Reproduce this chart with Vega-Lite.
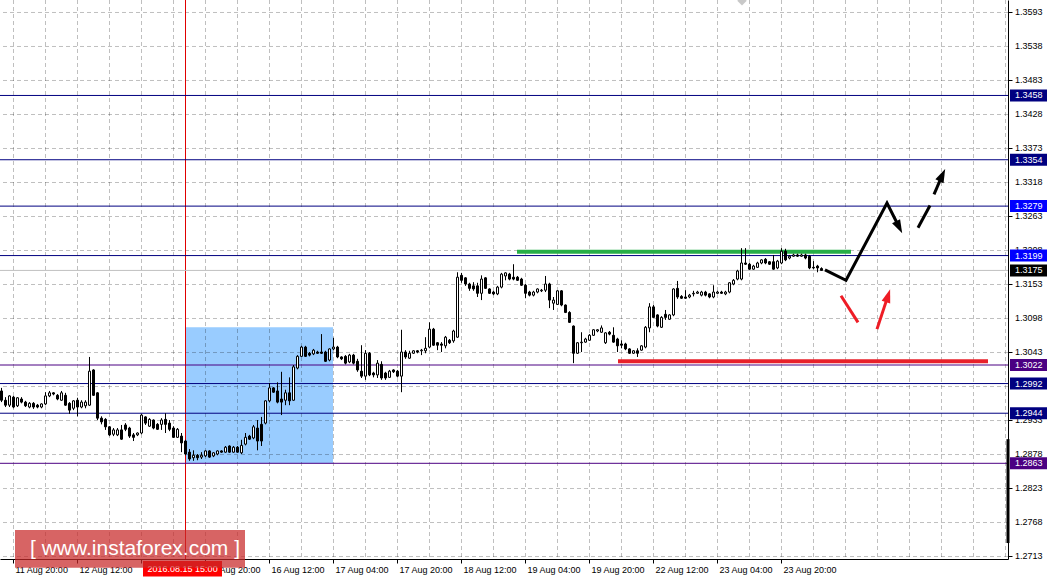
{
"$schema": "https://vega.github.io/schema/vega-lite/v6.json",
"width": 1008, "height": 559,
"autosize": {"type": "none"},
"padding": {"left": 0, "top": 0, "right": 50, "bottom": 21},
"background": "white",
"config": {"view": {"stroke": null}, "font": "Liberation Sans"},
"datasets": {
"zones": [{"t1": 43, "t2": 80, "p1": 1.2863, "p2": 1.3083}],
"ygrid": [{"p":1.2713},{"p":1.2768},{"p":1.2823},{"p":1.2878},{"p":1.2933},{"p":1.2988},{"p":1.3043},{"p":1.3098},{"p":1.3153},{"p":1.3208},{"p":1.3263},{"p":1.3318},{"p":1.3373},{"p":1.3428},{"p":1.3483},{"p":1.3538},{"p":1.3593}],
"xgrid": [{"t":0},{"t":8},{"t":16},{"t":24},{"t":32},{"t":40},{"t":48},{"t":56},{"t":64},{"t":72},{"t":80},{"t":88},{"t":96},{"t":104},{"t":112},{"t":120},{"t":128},{"t":136},{"t":144},{"t":152},{"t":160},{"t":168},{"t":176},{"t":184},{"t":192},{"t":200},{"t":208},{"t":216},{"t":224},{"t":232},{"t":240},{"t":248}],
"levels": [{"p":1.3458,"kind":"level"},{"p":1.3354,"kind":"level"},{"p":1.3279,"kind":"target"},{"p":1.3199,"kind":"target"},{"p":1.3175,"kind":"bid"},{"p":1.3022,"kind":"key"},{"p":1.2992,"kind":"level"},{"p":1.2944,"kind":"level"},{"p":1.2863,"kind":"key"}],
"hlines": [{"name":"resistance","t":126,"p":1.3205},{"name":"resistance","t":209.5,"p":1.3205},{"name":"support","t":151.25,"p":1.3028},{"name":"support","t":243.75,"p":1.3028}],
"paths": [{"seg":"a","t":203,"p":1.3176},{"seg":"a","t":208.25,"p":1.3159},{"seg":"a","t":218.5,"p":1.3284},{"seg":"a","t":221.45,"p":1.3246},{"seg":"b","t":226.25,"p":1.3244},{"seg":"b","t":229.25,"p":1.328},{"seg":"c","t":230.25,"p":1.3298},{"seg":"c","t":232.25,"p":1.3328},{"seg":"r1","t":207,"p":1.3134},{"seg":"r1","t":211.25,"p":1.3091},{"seg":"r2","t":216,"p":1.308},{"seg":"r2","t":218.7,"p":1.3133}],
"heads": [{"head":"h1","t":221.45,"p":1.3246},{"head":"h2","t":232.25,"p":1.3328},{"head":"h3","t":218.7,"p":1.3133}],
"candles": [
{"t":-3,"o":1.2980,"h":1.2985,"l":1.2962,"c":1.2965},
{"t":-2,"o":1.2965,"h":1.2970,"l":1.2954,"c":1.2957},
{"t":-1,"o":1.2957,"h":1.2973,"l":1.2954,"c":1.2972},
{"t":0,"o":1.2970,"h":1.2972,"l":1.2952,"c":1.2954},
{"t":1,"o":1.2956,"h":1.2970,"l":1.2954,"c":1.2969},
{"t":2,"o":1.2967,"h":1.2970,"l":1.2960,"c":1.2962},
{"t":3,"o":1.2962,"h":1.2964,"l":1.2954,"c":1.2956},
{"t":4,"o":1.2954,"h":1.2962,"l":1.2952,"c":1.2960},
{"t":5,"o":1.2960,"h":1.2962,"l":1.2951,"c":1.2954},
{"t":6,"o":1.2957,"h":1.2959,"l":1.2952,"c":1.2954},
{"t":7,"o":1.2954,"h":1.2960,"l":1.2952,"c":1.2959},
{"t":8,"o":1.2959,"h":1.2978,"l":1.2957,"c":1.2972},
{"t":9,"o":1.2972,"h":1.2980,"l":1.2970,"c":1.2977},
{"t":10,"o":1.2977,"h":1.2978,"l":1.2973,"c":1.2975},
{"t":11,"o":1.2973,"h":1.2975,"l":1.2965,"c":1.2967},
{"t":12,"o":1.2965,"h":1.2980,"l":1.2964,"c":1.2977},
{"t":13,"o":1.2973,"h":1.2977,"l":1.2956,"c":1.2957},
{"t":14,"o":1.2960,"h":1.2962,"l":1.2943,"c":1.2949},
{"t":15,"o":1.2952,"h":1.2965,"l":1.2949,"c":1.2964},
{"t":16,"o":1.2965,"h":1.2969,"l":1.2939,"c":1.2954},
{"t":17,"o":1.2954,"h":1.2965,"l":1.2952,"c":1.2962},
{"t":18,"o":1.2956,"h":1.2965,"l":1.2952,"c":1.2962},
{"t":19,"o":1.2957,"h":1.3035,"l":1.2956,"c":1.3012},
{"t":20,"o":1.3014,"h":1.3015,"l":1.2972,"c":1.2973},
{"t":21,"o":1.2977,"h":1.2978,"l":1.2933,"c":1.2936},
{"t":22,"o":1.2936,"h":1.2939,"l":1.2926,"c":1.2930},
{"t":23,"o":1.2934,"h":1.2936,"l":1.2917,"c":1.2922},
{"t":24,"o":1.2922,"h":1.2923,"l":1.2907,"c":1.2909},
{"t":25,"o":1.2910,"h":1.2920,"l":1.2907,"c":1.2917},
{"t":26,"o":1.2909,"h":1.2920,"l":1.2907,"c":1.2917},
{"t":27,"o":1.2917,"h":1.2925,"l":1.2901,"c":1.2902},
{"t":28,"o":1.2925,"h":1.2928,"l":1.2915,"c":1.2918},
{"t":29,"o":1.2920,"h":1.2922,"l":1.2904,"c":1.2907},
{"t":30,"o":1.2909,"h":1.2912,"l":1.2899,"c":1.2905},
{"t":31,"o":1.2909,"h":1.2913,"l":1.2907,"c":1.2912},
{"t":32,"o":1.2912,"h":1.2943,"l":1.2910,"c":1.2941},
{"t":33,"o":1.2938,"h":1.2939,"l":1.2925,"c":1.2928},
{"t":34,"o":1.2923,"h":1.2936,"l":1.2922,"c":1.2934},
{"t":35,"o":1.2933,"h":1.2934,"l":1.2918,"c":1.2920},
{"t":36,"o":1.2926,"h":1.2928,"l":1.2917,"c":1.2918},
{"t":37,"o":1.2926,"h":1.2936,"l":1.2917,"c":1.2933},
{"t":38,"o":1.2934,"h":1.2944,"l":1.2912,"c":1.2926},
{"t":39,"o":1.2928,"h":1.2933,"l":1.2915,"c":1.2918},
{"t":40,"o":1.2920,"h":1.2923,"l":1.2904,"c":1.2905},
{"t":41,"o":1.2905,"h":1.2920,"l":1.2904,"c":1.2918},
{"t":42,"o":1.2907,"h":1.2912,"l":1.2881,"c":1.2896},
{"t":43,"o":1.2899,"h":1.2901,"l":1.2876,"c":1.2878},
{"t":44,"o":1.2881,"h":1.2886,"l":1.2867,"c":1.2870},
{"t":45,"o":1.2872,"h":1.2884,"l":1.2867,"c":1.2876},
{"t":46,"o":1.2876,"h":1.2878,"l":1.2868,"c":1.2872},
{"t":47,"o":1.2873,"h":1.2881,"l":1.2870,"c":1.2876},
{"t":48,"o":1.2875,"h":1.2884,"l":1.2873,"c":1.2883},
{"t":49,"o":1.2883,"h":1.2884,"l":1.2872,"c":1.2873},
{"t":50,"o":1.2875,"h":1.2881,"l":1.2873,"c":1.2880},
{"t":51,"o":1.2878,"h":1.2884,"l":1.2876,"c":1.2883},
{"t":52,"o":1.2883,"h":1.2884,"l":1.2880,"c":1.2881},
{"t":53,"o":1.2881,"h":1.2891,"l":1.2880,"c":1.2889},
{"t":54,"o":1.2891,"h":1.2892,"l":1.2880,"c":1.2881},
{"t":55,"o":1.2881,"h":1.2891,"l":1.2880,"c":1.2889},
{"t":56,"o":1.2889,"h":1.2891,"l":1.2880,"c":1.2881},
{"t":57,"o":1.2880,"h":1.2901,"l":1.2878,"c":1.2892},
{"t":58,"o":1.2894,"h":1.2912,"l":1.2892,"c":1.2905},
{"t":59,"o":1.2907,"h":1.2909,"l":1.2901,"c":1.2902},
{"t":60,"o":1.2904,"h":1.2925,"l":1.2902,"c":1.2922},
{"t":61,"o":1.2920,"h":1.2933,"l":1.2884,"c":1.2899},
{"t":62,"o":1.2926,"h":1.2938,"l":1.2891,"c":1.2899},
{"t":63,"o":1.2928,"h":1.2965,"l":1.2926,"c":1.2964},
{"t":64,"o":1.2964,"h":1.2993,"l":1.2962,"c":1.2985},
{"t":65,"o":1.2985,"h":1.2986,"l":1.2977,"c":1.2978},
{"t":66,"o":1.2980,"h":1.2994,"l":1.2960,"c":1.2962},
{"t":67,"o":1.2967,"h":1.3011,"l":1.2941,"c":1.2962},
{"t":68,"o":1.2965,"h":1.2982,"l":1.2957,"c":1.2977},
{"t":69,"o":1.2977,"h":1.3002,"l":1.2957,"c":1.2964},
{"t":70,"o":1.2965,"h":1.3022,"l":1.2964,"c":1.3019},
{"t":71,"o":1.3017,"h":1.3038,"l":1.3015,"c":1.3036},
{"t":72,"o":1.3036,"h":1.3053,"l":1.3035,"c":1.3051},
{"t":73,"o":1.3051,"h":1.3053,"l":1.3035,"c":1.3036},
{"t":74,"o":1.3041,"h":1.3043,"l":1.3036,"c":1.3038},
{"t":75,"o":1.3040,"h":1.3048,"l":1.3038,"c":1.3046},
{"t":76,"o":1.3043,"h":1.3045,"l":1.3040,"c":1.3041},
{"t":77,"o":1.3043,"h":1.3072,"l":1.3040,"c":1.3041},
{"t":78,"o":1.3043,"h":1.3045,"l":1.3027,"c":1.3028},
{"t":79,"o":1.3030,"h":1.3049,"l":1.3028,"c":1.3048},
{"t":80,"o":1.3048,"h":1.3066,"l":1.3046,"c":1.3051},
{"t":81,"o":1.3051,"h":1.3053,"l":1.3033,"c":1.3035},
{"t":82,"o":1.3035,"h":1.3036,"l":1.3030,"c":1.3032},
{"t":83,"o":1.3036,"h":1.3038,"l":1.3023,"c":1.3025},
{"t":84,"o":1.3027,"h":1.3040,"l":1.3025,"c":1.3038},
{"t":85,"o":1.3038,"h":1.3040,"l":1.3023,"c":1.3025},
{"t":86,"o":1.3028,"h":1.3032,"l":1.3011,"c":1.3014},
{"t":87,"o":1.3012,"h":1.3054,"l":1.3001,"c":1.3004},
{"t":88,"o":1.3004,"h":1.3046,"l":1.2998,"c":1.3041},
{"t":89,"o":1.3041,"h":1.3043,"l":1.3004,"c":1.3006},
{"t":90,"o":1.3009,"h":1.3011,"l":1.3002,"c":1.3006},
{"t":91,"o":1.3006,"h":1.3030,"l":1.3001,"c":1.3025},
{"t":92,"o":1.3023,"h":1.3028,"l":1.2998,"c":1.3001},
{"t":93,"o":1.3009,"h":1.3011,"l":1.2998,"c":1.3001},
{"t":94,"o":1.3002,"h":1.3014,"l":1.3001,"c":1.3012},
{"t":95,"o":1.3014,"h":1.3015,"l":1.3009,"c":1.3011},
{"t":96,"o":1.3012,"h":1.3014,"l":1.3002,"c":1.3004},
{"t":97,"o":1.3004,"h":1.3079,"l":1.2978,"c":1.3043},
{"t":98,"o":1.3043,"h":1.3046,"l":1.3032,"c":1.3035},
{"t":99,"o":1.3033,"h":1.3045,"l":1.3032,"c":1.3041},
{"t":100,"o":1.3041,"h":1.3046,"l":1.3040,"c":1.3045},
{"t":101,"o":1.3045,"h":1.3046,"l":1.3041,"c":1.3043},
{"t":102,"o":1.3045,"h":1.3048,"l":1.3038,"c":1.3046},
{"t":103,"o":1.3045,"h":1.3067,"l":1.3041,"c":1.3049},
{"t":104,"o":1.3051,"h":1.3091,"l":1.3049,"c":1.3080},
{"t":105,"o":1.3080,"h":1.3082,"l":1.3053,"c":1.3054},
{"t":106,"o":1.3058,"h":1.3059,"l":1.3046,"c":1.3054},
{"t":107,"o":1.3056,"h":1.3059,"l":1.3043,"c":1.3054},
{"t":108,"o":1.3053,"h":1.3069,"l":1.3049,"c":1.3067},
{"t":109,"o":1.3062,"h":1.3064,"l":1.3056,"c":1.3058},
{"t":110,"o":1.3061,"h":1.3079,"l":1.3058,"c":1.3077},
{"t":111,"o":1.3067,"h":1.3172,"l":1.3066,"c":1.3164},
{"t":112,"o":1.3167,"h":1.3171,"l":1.3155,"c":1.3159},
{"t":113,"o":1.3163,"h":1.3164,"l":1.3150,"c":1.3153},
{"t":114,"o":1.3153,"h":1.3155,"l":1.3142,"c":1.3146},
{"t":115,"o":1.3150,"h":1.3156,"l":1.3142,"c":1.3145},
{"t":116,"o":1.3150,"h":1.3155,"l":1.3132,"c":1.3138},
{"t":117,"o":1.3138,"h":1.3167,"l":1.3127,"c":1.3161},
{"t":118,"o":1.3163,"h":1.3164,"l":1.3145,"c":1.3146},
{"t":119,"o":1.3145,"h":1.3146,"l":1.3137,"c":1.3138},
{"t":120,"o":1.3140,"h":1.3142,"l":1.3135,"c":1.3137},
{"t":121,"o":1.3137,"h":1.3150,"l":1.3135,"c":1.3148},
{"t":122,"o":1.3148,"h":1.3171,"l":1.3146,"c":1.3169},
{"t":123,"o":1.3166,"h":1.3172,"l":1.3159,"c":1.3171},
{"t":124,"o":1.3169,"h":1.3171,"l":1.3159,"c":1.3161},
{"t":125,"o":1.3164,"h":1.3185,"l":1.3159,"c":1.3161},
{"t":126,"o":1.3164,"h":1.3166,"l":1.3158,"c":1.3159},
{"t":127,"o":1.3161,"h":1.3163,"l":1.3150,"c":1.3151},
{"t":128,"o":1.3151,"h":1.3153,"l":1.3130,"c":1.3138},
{"t":129,"o":1.3140,"h":1.3142,"l":1.3133,"c":1.3135},
{"t":130,"o":1.3135,"h":1.3142,"l":1.3133,"c":1.3140},
{"t":131,"o":1.3140,"h":1.3146,"l":1.3138,"c":1.3145},
{"t":132,"o":1.3142,"h":1.3145,"l":1.3140,"c":1.3143},
{"t":133,"o":1.3143,"h":1.3166,"l":1.3140,"c":1.3153},
{"t":134,"o":1.3153,"h":1.3155,"l":1.3114,"c":1.3127},
{"t":135,"o":1.3122,"h":1.3132,"l":1.3111,"c":1.3127},
{"t":136,"o":1.3120,"h":1.3143,"l":1.3119,"c":1.3142},
{"t":137,"o":1.3142,"h":1.3143,"l":1.3117,"c":1.3119},
{"t":138,"o":1.3119,"h":1.3120,"l":1.3106,"c":1.3107},
{"t":139,"o":1.3107,"h":1.3109,"l":1.3090,"c":1.3091},
{"t":140,"o":1.3085,"h":1.3086,"l":1.3025,"c":1.3041},
{"t":141,"o":1.3041,"h":1.3059,"l":1.3040,"c":1.3058},
{"t":142,"o":1.3058,"h":1.3075,"l":1.3043,"c":1.3059},
{"t":143,"o":1.3059,"h":1.3066,"l":1.3058,"c":1.3064},
{"t":144,"o":1.3062,"h":1.3072,"l":1.3061,"c":1.3070},
{"t":145,"o":1.3070,"h":1.3080,"l":1.3069,"c":1.3079},
{"t":146,"o":1.3077,"h":1.3080,"l":1.3075,"c":1.3079},
{"t":147,"o":1.3075,"h":1.3086,"l":1.3074,"c":1.3082},
{"t":148,"o":1.3058,"h":1.3075,"l":1.3056,"c":1.3074},
{"t":149,"o":1.3075,"h":1.3077,"l":1.3070,"c":1.3072},
{"t":150,"o":1.3070,"h":1.3083,"l":1.3058,"c":1.3059},
{"t":151,"o":1.3064,"h":1.3066,"l":1.3043,"c":1.3053},
{"t":152,"o":1.3056,"h":1.3062,"l":1.3049,"c":1.3054},
{"t":153,"o":1.3056,"h":1.3058,"l":1.3046,"c":1.3048},
{"t":154,"o":1.3048,"h":1.3049,"l":1.3040,"c":1.3041},
{"t":155,"o":1.3041,"h":1.3046,"l":1.3040,"c":1.3045},
{"t":156,"o":1.3045,"h":1.3049,"l":1.3035,"c":1.3041},
{"t":157,"o":1.3046,"h":1.3054,"l":1.3045,"c":1.3053},
{"t":158,"o":1.3051,"h":1.3085,"l":1.3049,"c":1.3083},
{"t":159,"o":1.3082,"h":1.3122,"l":1.3075,"c":1.3116},
{"t":160,"o":1.3116,"h":1.3119,"l":1.3098,"c":1.3099},
{"t":161,"o":1.3103,"h":1.3104,"l":1.3083,"c":1.3085},
{"t":162,"o":1.3083,"h":1.3101,"l":1.3082,"c":1.3099},
{"t":163,"o":1.3104,"h":1.3111,"l":1.3095,"c":1.3099},
{"t":164,"o":1.3096,"h":1.3104,"l":1.3095,"c":1.3103},
{"t":165,"o":1.3103,"h":1.3146,"l":1.3101,"c":1.3145},
{"t":166,"o":1.3146,"h":1.3158,"l":1.3129,"c":1.3132},
{"t":167,"o":1.3133,"h":1.3135,"l":1.3129,"c":1.3130},
{"t":168,"o":1.3132,"h":1.3143,"l":1.3129,"c":1.3130},
{"t":169,"o":1.3132,"h":1.3137,"l":1.3130,"c":1.3135},
{"t":170,"o":1.3137,"h":1.3142,"l":1.3133,"c":1.3138},
{"t":171,"o":1.3138,"h":1.3142,"l":1.3137,"c":1.3140},
{"t":172,"o":1.3135,"h":1.3142,"l":1.3133,"c":1.3140},
{"t":173,"o":1.3140,"h":1.3142,"l":1.3133,"c":1.3135},
{"t":174,"o":1.3137,"h":1.3138,"l":1.3130,"c":1.3132},
{"t":175,"o":1.3132,"h":1.3151,"l":1.3130,"c":1.3140},
{"t":176,"o":1.3138,"h":1.3142,"l":1.3137,"c":1.3140},
{"t":177,"o":1.3140,"h":1.3142,"l":1.3137,"c":1.3138},
{"t":178,"o":1.3137,"h":1.3142,"l":1.3135,"c":1.3140},
{"t":179,"o":1.3140,"h":1.3156,"l":1.3138,"c":1.3155},
{"t":180,"o":1.3153,"h":1.3161,"l":1.3151,"c":1.3159},
{"t":181,"o":1.3161,"h":1.3176,"l":1.3159,"c":1.3174},
{"t":182,"o":1.3161,"h":1.3211,"l":1.3159,"c":1.3187},
{"t":183,"o":1.3187,"h":1.3211,"l":1.3184,"c":1.3185},
{"t":184,"o":1.3185,"h":1.3187,"l":1.3176,"c":1.3177},
{"t":185,"o":1.3177,"h":1.3184,"l":1.3176,"c":1.3182},
{"t":186,"o":1.3180,"h":1.3189,"l":1.3179,"c":1.3187},
{"t":187,"o":1.3187,"h":1.3193,"l":1.3185,"c":1.3192},
{"t":188,"o":1.3193,"h":1.3195,"l":1.3185,"c":1.3187},
{"t":189,"o":1.3189,"h":1.3190,"l":1.3184,"c":1.3185},
{"t":190,"o":1.3189,"h":1.3200,"l":1.3176,"c":1.3177},
{"t":191,"o":1.3179,"h":1.3192,"l":1.3177,"c":1.3190},
{"t":192,"o":1.3187,"h":1.3211,"l":1.3185,"c":1.3206},
{"t":193,"o":1.3206,"h":1.3210,"l":1.3190,"c":1.3192},
{"t":194,"o":1.3195,"h":1.3200,"l":1.3193,"c":1.3198},
{"t":195,"o":1.3198,"h":1.3202,"l":1.3197,"c":1.3200},
{"t":196,"o":1.3200,"h":1.3202,"l":1.3197,"c":1.3198},
{"t":197,"o":1.3198,"h":1.3202,"l":1.3197,"c":1.3200},
{"t":198,"o":1.3200,"h":1.3202,"l":1.3193,"c":1.3195},
{"t":199,"o":1.3198,"h":1.3200,"l":1.3177,"c":1.3179},
{"t":200,"o":1.3180,"h":1.3190,"l":1.3177,"c":1.3179},
{"t":201,"o":1.3182,"h":1.3184,"l":1.3172,"c":1.3179},
{"t":202,"o":1.3178,"h":1.3180,"l":1.3175,"c":1.3175}
]
},
"layer": [
{"data": {"name": "zones"}, "mark": {"type": "rect", "color": "#99ccff"},
 "encoding": {
  "x": {"field": "t1", "type": "quantitative", "title": null, "scale": {"domain": [-3.25, 248.75], "nice": false, "zero": false, "padding": 0},
   "axis": {"orient": "bottom", "values": [0,16,32,48,64,80,96,112,128,144,160,176,192], "labelExpr": "['11 Aug 20:00','12 Aug 12:00','15 Aug 04:00','15 Aug 20:00','16 Aug 12:00','17 Aug 04:00','17 Aug 20:00','18 Aug 12:00','19 Aug 04:00','19 Aug 20:00','22 Aug 12:00','23 Aug 04:00','23 Aug 20:00'][round(datum.value/16)]", "grid": false, "domain": true, "ticks": true, "labels": true, "domainColor": "black", "tickColor": "black", "tickSize": 4, "labelColor": "black", "labelFont": "Liberation Sans", "labelFontSize": 9, "labelAlign": "left", "labelOffset": 2, "labelPadding": 2, "labelOverlap": false, "labelFlush": false, "labelBound": false, "title": null, "zindex": 0}},
  "x2": {"field": "t2"},
  "y": {"field": "p1", "type": "quantitative", "title": null, "scale": {"domain": [1.27082, 1.36124], "nice": false, "zero": false, "padding": 0},
   "axis": {"orient": "right", "values": [1.2713,1.2768,1.2823,1.2878,1.2933,1.2988,1.3043,1.3098,1.3153,1.3208,1.3263,1.3318,1.3373,1.3428,1.3483,1.3538,1.3593], "grid": false, "domain": true, "ticks": true, "labels": false, "domainColor": "black", "tickColor": "black", "tickSize": 4, "title": null, "zindex": 0}},
  "y2": {"field": "p2"}}},
{"data": {"name": "ygrid"}, "mark": {"type": "rule", "color": "black", "opacity": 0.25, "strokeDash": [4, 3], "yOffset": 0.5},
 "encoding": {"y": {"field": "p", "type": "quantitative"}}},
{"data": {"name": "xgrid"}, "mark": {"type": "rule", "color": "black", "opacity": 0.25, "strokeDash": [4, 3], "xOffset": 0.5},
 "encoding": {"x": {"field": "t", "type": "quantitative"}}},
{"data": {"values": [{}]}, "mark": {"type": "rule", "color": "#e00000", "strokeWidth": 1, "xOffset": 0.5},
 "encoding": {"x": {"datum": 43, "type": "quantitative"}}},
{"data": {"name": "levels"}, "mark": {"type": "rule", "strokeWidth": 1},
 "encoding": {"y": {"field": "p", "type": "quantitative"},
  "stroke": {"condition": [{"test": "datum.kind === 'key'", "value": "#4b0082"}, {"test": "datum.kind === 'bid'", "value": "#c0c0c0"}], "value": "#000080"}}},
{"data": {"name": "hlines"}, "transform": [{"filter": "datum.name === 'resistance'"}], "mark": {"type": "line", "color": "#27ae47", "strokeWidth": 4, "strokeCap": "butt"},
 "encoding": {"x": {"field": "t", "type": "quantitative"}, "y": {"field": "p", "type": "quantitative"}}},
{"data": {"name": "hlines"}, "transform": [{"filter": "datum.name === 'support'"}], "mark": {"type": "line", "color": "#e8202a", "strokeWidth": 4, "strokeCap": "butt"},
 "encoding": {"x": {"field": "t", "type": "quantitative"}, "y": {"field": "p", "type": "quantitative"}}},
{"data": {"name": "candles"}, "mark": {"type": "rule", "color": "black", "strokeWidth": 1, "xOffset": 0.5},
 "encoding": {"x": {"field": "t", "type": "quantitative"}, "y": {"field": "l", "type": "quantitative"}, "y2": {"field": "h"}}},
{"data": {"name": "candles"}, "mark": {"type": "bar", "width": 2, "stroke": "black", "strokeWidth": 1, "xOffset": 0.5},
 "encoding": {"x": {"field": "t", "type": "quantitative"}, "y": {"field": "o", "type": "quantitative"}, "y2": {"field": "c"},
  "fill": {"condition": {"test": "datum.c > datum.o", "value": "white"}, "value": "black"}}},
{"data": {"name": "paths"}, "transform": [{"filter": "datum.seg === 'a' || datum.seg === 'b' || datum.seg === 'c'"}], "mark": {"type": "line", "color": "black", "strokeWidth": 3, "strokeJoin": "miter", "strokeCap": "butt"},
 "encoding": {"x": {"field": "t", "type": "quantitative"}, "y": {"field": "p", "type": "quantitative"}, "detail": {"field": "seg"}}},
{"data": {"name": "paths"}, "transform": [{"filter": "datum.seg === 'r1' || datum.seg === 'r2'"}], "mark": {"type": "line", "color": "#ee1c25", "strokeWidth": 3, "strokeCap": "butt"},
 "encoding": {"x": {"field": "t", "type": "quantitative"}, "y": {"field": "p", "type": "quantitative"}, "detail": {"field": "seg"}}},
{"data": {"name": "heads"}, "transform": [{"filter": "datum.head === 'h1'"}], "mark": {"type": "point", "shape": "M0,-1L0.6,0.8L-0.6,0.8Z", "size": 225, "filled": true, "color": "black", "opacity": 1, "angle": 153},
 "encoding": {"x": {"field": "t", "type": "quantitative"}, "y": {"field": "p", "type": "quantitative"}}},
{"data": {"name": "heads"}, "transform": [{"filter": "datum.head === 'h2'"}], "mark": {"type": "point", "shape": "M0,-1L0.6,0.8L-0.6,0.8Z", "size": 225, "filled": true, "color": "black", "opacity": 1, "angle": 25},
 "encoding": {"x": {"field": "t", "type": "quantitative"}, "y": {"field": "p", "type": "quantitative"}}},
{"data": {"name": "heads"}, "transform": [{"filter": "datum.head === 'h3'"}], "mark": {"type": "point", "shape": "M0,-1L0.6,0.8L-0.6,0.8Z", "size": 225, "filled": true, "color": "#ee1c25", "opacity": 1, "angle": 18},
 "encoding": {"x": {"field": "t", "type": "quantitative"}, "y": {"field": "p", "type": "quantitative"}}},
{"data": {"name": "ygrid"}, "transform": [{"filter": "datum.p !== 1.2988"}], "mark": {"type": "text", "color": "black", "font": "Liberation Sans", "fontSize": 9, "align": "left", "baseline": "middle"},
 "encoding": {"x": {"datum": 250.5, "type": "quantitative"}, "y": {"field": "p", "type": "quantitative"}, "text": {"field": "p", "format": ".4f"}}},
{"data": {"name": "levels"}, "mark": {"type": "rule", "strokeWidth": 12, "strokeCap": "butt"},
 "encoding": {"x": {"datum": 249.25, "type": "quantitative"}, "x2": {"datum": 258.5}, "y": {"field": "p", "type": "quantitative"},
  "stroke": {"condition": [{"test": "datum.kind === 'key'", "value": "#4b0082"}, {"test": "datum.kind === 'target'", "value": "#0000ff"}, {"test": "datum.kind === 'bid'", "value": "#000000"}], "value": "#000080"}}},
{"data": {"name": "levels"}, "mark": {"type": "text", "color": "white", "font": "Liberation Sans", "fontSize": 9, "align": "left", "baseline": "middle"},
 "encoding": {"x": {"datum": 250.5, "type": "quantitative"}, "y": {"field": "p", "type": "quantitative"}, "text": {"field": "p", "format": ".4f"}}},
{"data": {"values": [{}]}, "mark": {"type": "rule", "color": "black", "strokeWidth": 3},
 "encoding": {"x": {"datum": 248.75, "type": "quantitative"}, "y": {"datum": 1.2902, "type": "quantitative"}, "y2": {"datum": 1.2734}}},
{"data": {"values": [{}]}, "mark": {"type": "rect", "color": "#ff0000"},
 "encoding": {"x": {"datum": 32.5, "type": "quantitative"}, "x2": {"datum": 52.25}, "y": {"datum": 1.2705, "type": "quantitative"}, "y2": {"datum": 1.2680}}},
{"data": {"values": [{"label": "2016.08.15 15:00"}]}, "mark": {"type": "text", "color": "white", "font": "Liberation Sans", "fontSize": 9, "align": "center", "baseline": "middle"},
 "encoding": {"x": {"datum": 42.4, "type": "quantitative"}, "y": {"datum": 1.26925, "type": "quantitative"}, "text": {"field": "label"}}},
{"data": {"values": [{}]}, "mark": {"type": "rect", "color": "#c82828", "opacity": 0.72},
 "encoding": {"x": {"datum": 0.5, "type": "quantitative"}, "x2": {"datum": 58}, "y": {"datum": 1.2755, "type": "quantitative"}, "y2": {"datum": 1.2694}}},
{"data": {"values": [{"label": "[ www.instaforex.com ]"}]}, "mark": {"type": "text", "color": "white", "font": "Liberation Sans", "fontSize": 21, "align": "center", "baseline": "middle"},
 "encoding": {"x": {"datum": 30.5, "type": "quantitative"}, "y": {"datum": 1.2725, "type": "quantitative"}, "text": {"field": "label"}}},
{"data": {"values": [{}]}, "mark": {"type": "point", "shape": "diamond", "size": 90, "filled": true, "color": "#c8c8c8", "opacity": 1},
 "encoding": {"x": {"datum": 182.25, "type": "quantitative"}, "y": {"datum": 1.3611, "type": "quantitative"}}}
]
}
